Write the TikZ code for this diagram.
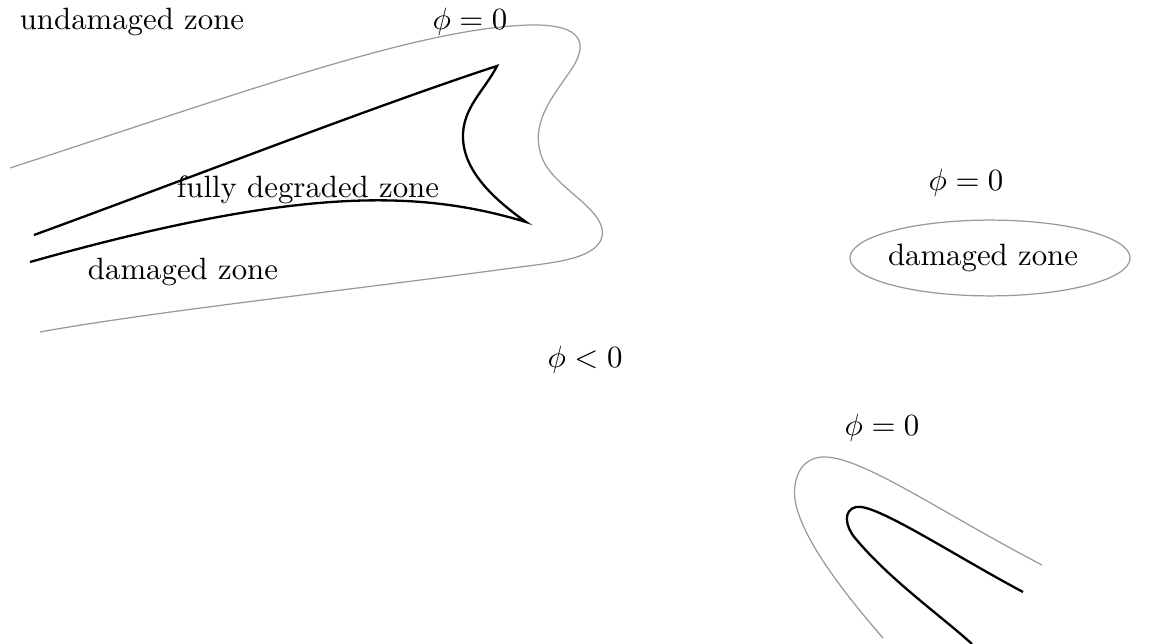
\documentclass[tikz,border=0pt]{standalone}
\usetikzlibrary{shapes.geometric}
\begin{document}
\begin{tikzpicture}[x=0.3245pt,y=-0.3245pt,
  levelset/.style={draw=black!40,line width=0.4pt},
  front/.style={draw=black,line width=0.75pt,line join=miter},
  lbl/.style={inner sep=0pt,font=\normalsize}]
\useasboundingbox (0,0) rectangle (1158,644);

% --- first crack: level set phi = 0 (outer contour)
\draw[levelset] (10,168)
  .. controls (250,90) and (420,28) .. (530,25)
  .. controls (585,24) and (588,45) .. (571,70)
  .. controls (552,98) and (528,125) .. (543,160)
  .. controls (556,190) and (612,212) .. (601,240)
  .. controls (592,258) and (560,262) .. (520,267)
  .. controls (350,290) and (150,312) .. (40,332);

% --- first crack: fully degraded zone boundary
\draw[front] (34,235)
  .. controls (190,178) and (380,104) .. (497,66)
  .. controls (485,90) and (462,108) .. (463,138)
  .. controls (464,172) and (495,200) .. (526,222)
  .. controls (420,190) and (300,186) .. (30,262);

% --- isolated damaged zone
\node[levelset,ellipse,inner sep=0pt,
      minimum width=90.9pt,minimum height=24.6pt] (ell) at (990,258) {};

% --- third crack: outer contour and degraded front
\draw[levelset] (1042,565)
  .. controls (940,512) and (860,455) .. (822,457)
  .. controls (795,459) and (790,490) .. (798,512)
  .. controls (810,550) and (850,600) .. (883,638);
\draw[front] (1023,592)
  .. controls (950,553) and (875,503) .. (856,507)
  .. controls (843,510) and (845,526) .. (855,538)
  .. controls (890,580) and (940,615) .. (972,644);

% --- labels
\node[lbl] (undam) at (132,22) {undamaged zone};
\node[lbl] (phitop) at (470,22) {$\phi=0$};
\node[lbl] (full) at (308,190) {fully degraded zone};
\node[lbl] (dam1) at (183,272) {damaged zone};
\node[lbl] (phiell) at (966,183) {$\phi=0$};
\node[lbl] (dam2) at (983,258) {damaged zone};
\node[lbl] (phineg) at (585,360) {$\phi<0$};
\node[lbl] (phibot) at (882,428) {$\phi=0$};
\end{tikzpicture}
\end{document}
